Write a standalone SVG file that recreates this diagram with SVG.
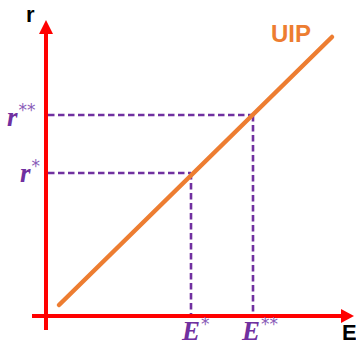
<svg xmlns="http://www.w3.org/2000/svg" width="356" height="345" viewBox="0 0 356 345">
<style>
.axis{stroke:#ff0000;stroke-width:4;fill:none}
.dash{stroke:#7030a0;stroke-width:2.6;stroke-dasharray:6.5,3.5;fill:none}
.lbl{font-family:"Liberation Serif",serif;font-style:italic;font-weight:bold;font-size:27px;fill:#7030a0}
.sup{font-family:"DejaVu Sans",sans-serif;font-style:normal;font-weight:normal;font-size:17px;fill:#8a5cb8}
.ax{font-family:"Liberation Sans",sans-serif;font-weight:bold;font-size:22px;fill:#000}
</style>
<rect width="356" height="345" fill="#fff"/>
<g id="connectors">
<line class="dash" x1="48" y1="115" x2="253" y2="115"/>
<line class="dash" x1="48" y1="173" x2="191" y2="173"/>
<line class="dash" x1="191" y1="173" x2="191" y2="315"/>
<line class="dash" x1="253" y1="115" x2="253" y2="315"/>
</g>
<g id="axes">
<line class="axis" x1="46" y1="330" x2="46" y2="32"/>
<polygon points="46,20 53,34 39,34" fill="#ff0000"/>
<line class="axis" x1="32" y1="316" x2="342" y2="316"/>
<polygon points="354,316 341,309 341,323" fill="#ff0000"/>
<text class="ax" x="26" y="22">r</text>
<text class="ax" x="342" y="340">E</text>
</g>
<g id="uip">
<line x1="59" y1="305" x2="332" y2="37" stroke="#ed7d31" stroke-width="4.5" stroke-linecap="round"/>
<text x="271" y="42" font-family="Liberation Sans,sans-serif" font-weight="bold" font-size="24" fill="#ed7d31">UIP</text>
</g>
<g id="labels">
<text class="lbl" x="7" y="126">r<tspan class="sup" dx="1" dy="-10">**</tspan></text>
<text class="lbl" x="20" y="182">r<tspan class="sup" dx="1" dy="-10">*</tspan></text>
<text class="lbl" x="182" y="340">E<tspan class="sup" dx="1" dy="-10">*</tspan></text>
<text class="lbl" x="242" y="340">E<tspan class="sup" dx="1" dy="-10">**</tspan></text>
</g>
</svg>
